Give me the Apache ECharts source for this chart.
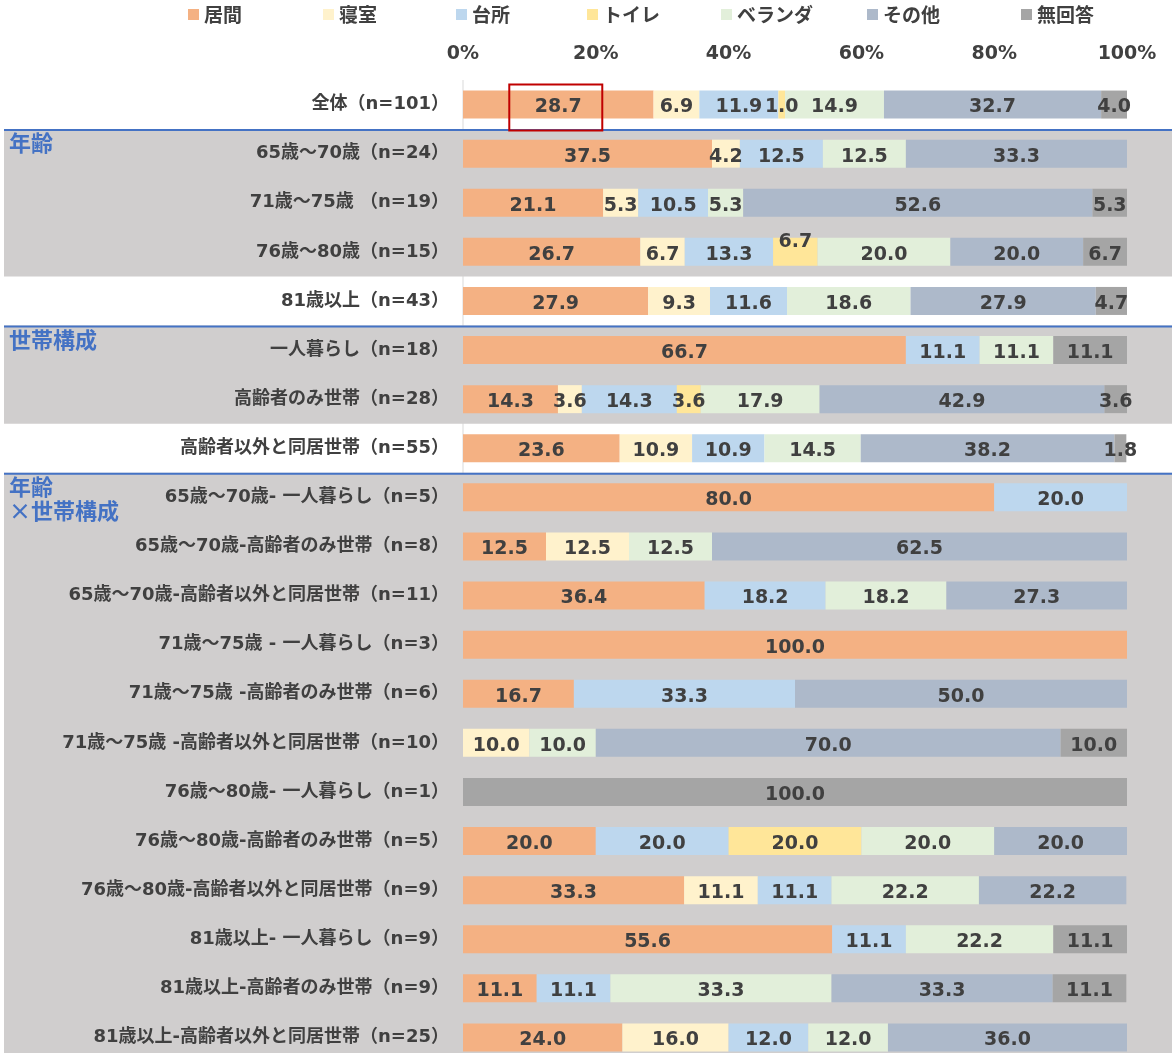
<!DOCTYPE html>
<html><head><meta charset="utf-8">
<script src="https://cdn.jsdelivr.net/npm/echarts@6/dist/echarts.min.js"></script>
<style>html,body{margin:0;padding:0;background:#fff;overflow:hidden}#c{width:1172px;height:1053px}</style>
</head><body><div id="c"></div>
<script>
const categories = [
  '全体（n=101）',
  '65歳～70歳（n=24）',
  '71歳～75歳 （n=19）',
  '76歳～80歳（n=15）',
  '81歳以上（n=43）',
  '一人暮らし（n=18）',
  '高齢者のみ世帯（n=28）',
  '高齢者以外と同居世帯（n=55）',
  '65歳～70歳- 一人暮らし（n=5）',
  '65歳～70歳-高齢者のみ世帯（n=8）',
  '65歳～70歳-高齢者以外と同居世帯（n=11）',
  '71歳～75歳 - 一人暮らし（n=3）',
  '71歳～75歳 -高齢者のみ世帯（n=6）',
  '71歳～75歳 -高齢者以外と同居世帯（n=10）',
  '76歳～80歳- 一人暮らし（n=1）',
  '76歳～80歳-高齢者のみ世帯（n=5）',
  '76歳～80歳-高齢者以外と同居世帯（n=9）',
  '81歳以上- 一人暮らし（n=9）',
  '81歳以上-高齢者のみ世帯（n=9）',
  '81歳以上-高齢者以外と同居世帯（n=25）'
];
const seriesNames = ['居間','寝室','台所','トイレ','ベランダ','その他','無回答'];
const living   = [28.7,37.5,21.1,26.7,27.9,66.7,14.3,23.6, 80.0,12.5,36.4, 100.0,16.7,0,    0,20.0,33.3, 55.6,11.1,24.0];
const bedroom  = [6.9, 4.2, 5.3, 6.7, 9.3, 0,   3.6,10.9, 0,   12.5,0,    0,    0,   10.0, 0,0,   11.1, 0,   0,   16.0];
const kitchen  = [11.9,12.5,10.5,13.3,11.6,11.1,14.3,10.9, 20.0,0,   18.2, 0,    33.3,0,    0,20.0,11.1, 11.1,11.1,12.0];
const toilet   = [1.0, 0,   0,   6.7, 0,   0,   3.6, 0,    0,   0,   0,    0,    0,   0,    0,20.0,0,    0,   0,   0];
const veranda  = [14.9,12.5,5.3, 20.0,18.6,11.1,17.9,14.5, 0,   12.5,18.2, 0,    0,   10.0, 0,20.0,22.2, 22.2,33.3,12.0];
const other    = [32.7,33.3,52.6,20.0,27.9,0,   42.9,38.2, 0,   62.5,27.3, 0,    50.0,70.0, 0,20.0,22.2, 0,   33.3,36.0];
const noAnswer = [4.0, 0,   5.3, 6.7, 4.7, 11.1,3.6, 1.8,  0,   0,   0,    0,    0,   10.0, 100.0,0,0, 11.1,11.1,0];
const xTicks = ['0%','20%','40%','60%','80%','100%'];
const groupLabels = ['年齢','世帯構成','年齢\n×世帯構成'];
const groupRanges = [[1,3],[5,6],[8,19]];

const seriesValues = [living,bedroom,kitchen,toilet,veranda,other,noAnswer];
const colors = ['#F4B183','#FFF2CC','#BDD7EE','#FFE699','#E2EFDA','#ADB9CA','#A5A5A5'];
const FONT = "'DejaVu Sans','Noto Sans CJK JP',sans-serif";
const JFONT = "'Noto Sans CJK JP','Noto Sans',sans-serif";
const raisedLabels = [[3,3]]; // [seriesIndex, rowIndex]
const legendLeft = [183,318,451,582,716,862,1016];

const chart = echarts.init(document.getElementById('c'));
const series = seriesNames.map((name,si)=>({
  name, type:'bar', stack:'total', barWidth:28,
  itemStyle:{color:colors[si]},
  data: seriesValues[si].map((v,ri)=>{
    const raised = raisedLabels.some(r=>r[0]===si&&r[1]===ri);
    return raised ? {value:v,label:{offset:[0,-10]}} : v;
  }),
  label:{show:true,position:'inside',offset:[0,3],color:'#404040',fontWeight:'bold',fontSize:19,fontFamily:FONT,
    formatter:p=>p.value>0?p.value.toFixed(1):''}
}));

chart.setOption({
  animation:false,
  backgroundColor:'#fff',
  textStyle:{fontFamily:FONT},
  legend: seriesNames.map((n,i)=>({top:0,left:legendLeft[i],itemWidth:11,itemHeight:11,itemGap:0,icon:'rect',
    textStyle:{fontSize:19,fontWeight:'bold',color:'#404040',fontFamily:JFONT},data:[n]})),
  grid:{left:463,right:45,top:80,height:982,outerBoundsMode:'none'},
  xAxis:{type:'value',position:'top',min:0,max:100,interval:20,
    axisLine:{show:false},axisTick:{show:false},splitLine:{show:false},
    axisLabel:{formatter:(v)=>xTicks[Math.round(v/20)],fontSize:19,fontWeight:'bold',color:'#404040',margin:16,fontFamily:FONT}},
  yAxis:{type:'category',inverse:true,data:categories,
    axisLine:{show:false},axisTick:{show:false},
    axisLabel:{fontSize:18,fontWeight:'bold',color:'#404040',margin:14,padding:[4,0,0,0],fontFamily:FONT}},
  series
});

function drawDecor(){
  const W = chart.getWidth();
  const c0 = chart.convertToPixel({yAxisIndex:0},categories[0]);
  const c1 = chart.convertToPixel({yAxisIndex:0},categories[1]);
  const pitch = c1-c0;
  const x0 = chart.convertToPixel({xAxisIndex:0},0);
  const els = [];
  els.push({type:'line',z:-3,silent:true,shape:{x1:x0,y1:c0-pitch/2,x2:x0,y2:chart.getHeight()},style:{stroke:'#D9D9D9',lineWidth:1}});
  groupRanges.forEach((g,i)=>{
    const top = chart.convertToPixel({yAxisIndex:0},categories[g[0]])-pitch/2;
    const bot = chart.convertToPixel({yAxisIndex:0},categories[g[1]])+pitch/2;
    els.push({type:'rect',z:-2,silent:true,shape:{x:4,y:top,width:W-4,height:bot-top},style:{fill:'#D0CECE'}});
    els.push({type:'line',z:-1,silent:true,shape:{x1:4,y1:top+1,x2:W,y2:top+1},style:{stroke:'#4472C4',lineWidth:2}});
    els.push({type:'text',z:-1,silent:true,x:9,y:top+2,style:{text:groupLabels[i],fill:'#4472C4',font:"bold 22px "+JFONT,lineHeight:24}});
  });
  // highlight box around first row's 居間 label
  const cx = chart.convertToPixel({xAxisIndex:0},living[0]/2);
  els.push({type:'rect',z:10,silent:true,shape:{x:cx-49,y:c0-20,width:93,height:46},style:{fill:'none',stroke:'#C00000',lineWidth:2}});
  chart.setOption({graphic:{elements:els}});
}
drawDecor();
</script></body></html>
